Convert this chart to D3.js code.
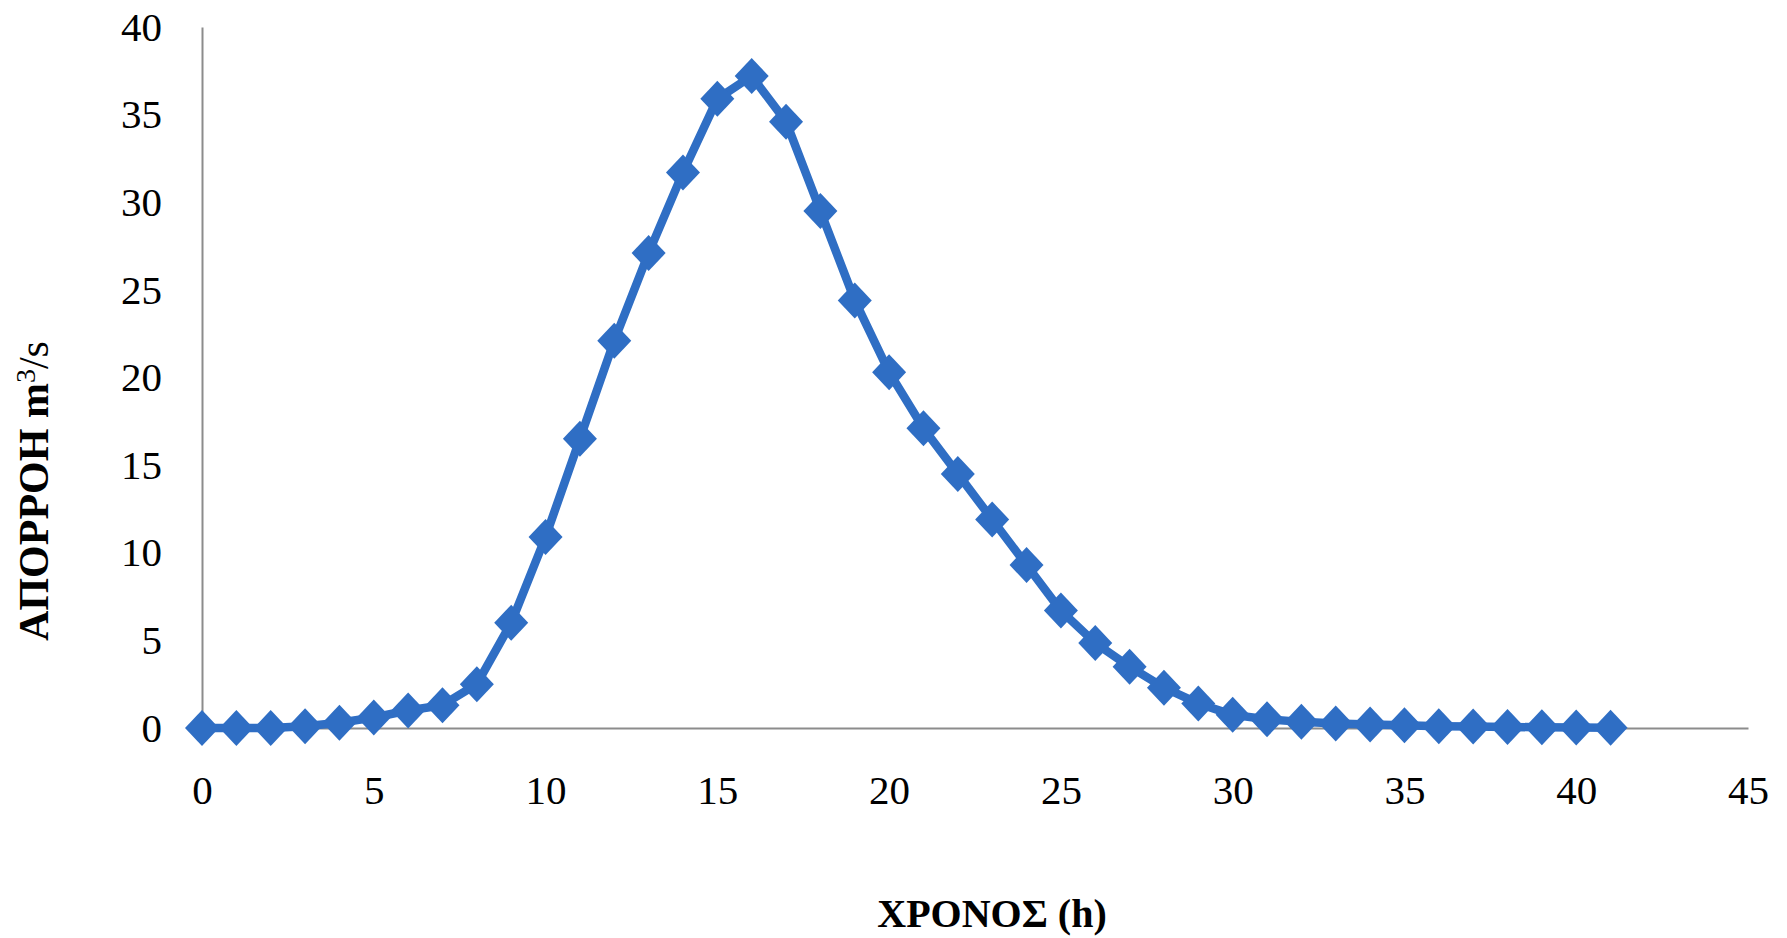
<!DOCTYPE html>
<html>
<head>
<meta charset="utf-8">
<script src="https://cdn.jsdelivr.net/npm/d3@7"></script>
<style>
  html, body { margin: 0; padding: 0; background: #ffffff; }
  svg { display: block; }
  text { font-family: "Liberation Serif", "Times New Roman", serif; fill: #000; }
</style>
</head>
<body>
<svg id="chart" width="1787" height="938"></svg>
<script>
// ---- data ----
const hours = [0,1,2,3,4,5,6,7,8,9,10,11,12,13,14,15,16,17,18,19,20,21,22,23,24,25,26,27,28,29,30,31,32,33,34,35,36,37,38,39,40,41];
const runoff = [0,0,0,0.1,0.3,0.6,1.0,1.3,2.5,6.0,10.9,16.5,22.1,27.1,31.7,35.9,37.2,34.6,29.5,24.4,20.3,17.1,14.5,11.9,9.3,6.7,4.85,3.5,2.3,1.4,0.75,0.5,0.35,0.25,0.2,0.15,0.1,0.08,0.06,0.04,0.03,0.02];
const xTicks = [0,5,10,15,20,25,30,35,40,45];
const yTicks = [0,5,10,15,20,25,30,35,40];
const xTitle = "ΧΡΟΝΟΣ (h)";
const yTitleMain = "ΑΠΟΡΡΟΗ m";
const yTitleSup = "3";
const yTitleEnd = "/s";

const svg = d3.select("#chart");
const x = d3.scaleLinear().domain([0, 45]).range([202, 1748]);
const y = d3.scaleLinear().domain([0, 40]).range([728, 27]);

const color = "#2F6EC4";

// axes
const xAxis = d3.axisBottom(x).tickValues(xTicks).tickSize(0).tickPadding(50).tickFormat(d3.format("d"));
const yAxis = d3.axisLeft(y).tickValues(yTicks).tickSize(0).tickPadding(40).tickFormat(d3.format("d"));

const gx = svg.append("g").attr("transform", `translate(0,${y(0)})`).call(xAxis);
const gy = svg.append("g").attr("transform", `translate(${x(0)},0)`).call(yAxis);

[gx, gy].forEach(g => {
  g.select(".domain").attr("stroke", "#8c8c8c").attr("stroke-width", 2);
  g.selectAll("text").style("font-family", '"Liberation Serif", serif').style("font-size", "41px").attr("fill", "#000");
});
gx.selectAll("text").attr("dy", "0.35em").attr("y", 62);

// line
const line = d3.line().x((d, i) => x(hours[i])).y(d => y(d));
svg.append("path")
  .datum(runoff)
  .attr("d", line)
  .attr("fill", "none")
  .attr("stroke", color)
  .attr("stroke-width", 8.5)
  .attr("stroke-linejoin", "round");

// diamond markers
const hw = 17, hh = 18;
const diamond = `M0,${-hh}L${hw},0L0,${hh}L${-hw},0Z`;
svg.append("g").selectAll("path")
  .data(runoff)
  .join("path")
  .attr("d", diamond)
  .attr("transform", (d, i) => `translate(${x(hours[i])},${y(d)})`)
  .attr("fill", color);

// axis titles
svg.append("text")
  .attr("x", 992).attr("y", 927)
  .attr("text-anchor", "middle")
  .style("font-size", "40px").style("font-weight", "bold")
  .text(xTitle);

const yt = svg.append("text")
  .attr("transform", "translate(48,491) rotate(-90)")
  .attr("text-anchor", "middle")
  .style("font-size", "42px").style("font-weight", "bold");
yt.append("tspan").text(yTitleMain);
yt.append("tspan").text(yTitleSup).attr("dy", "-0.45em").style("font-size", "28px").style("font-weight", "normal");
yt.append("tspan").text(yTitleEnd).attr("dy", "0.3em").style("font-weight", "normal");
</script>
</body>
</html>
